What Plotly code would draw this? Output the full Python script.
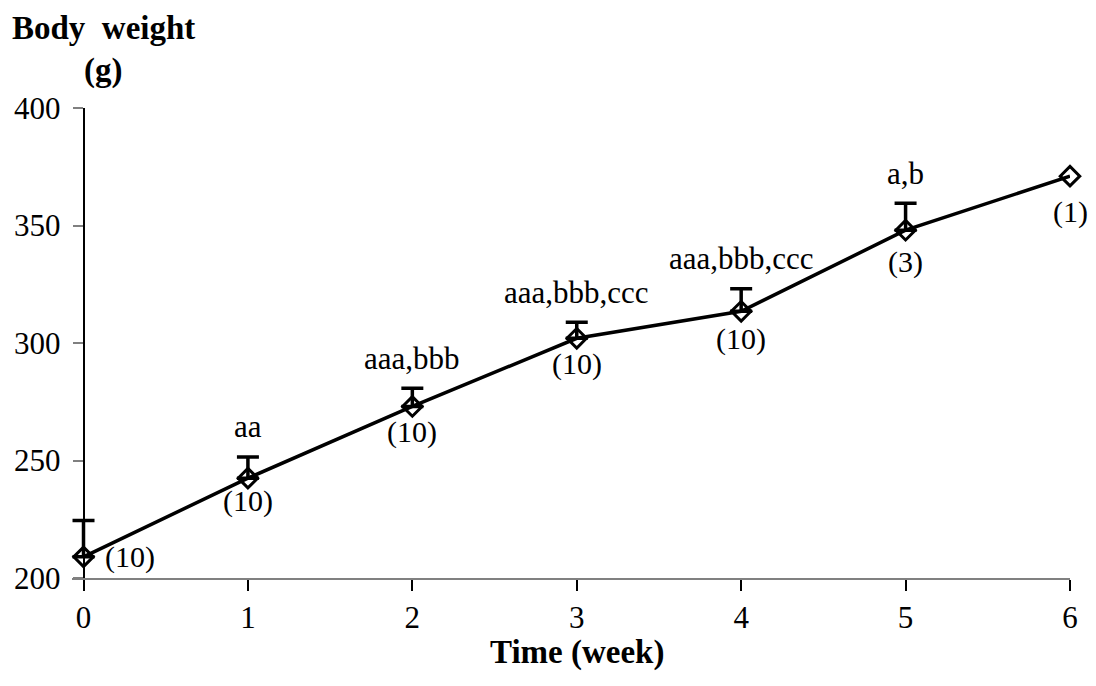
import plotly.graph_objects as go

# Body weight over time (mean with upward SEM bar)
weeks = [0, 1, 2, 3, 4, 5, 6]
mean_weight = [209, 242.5, 273, 302, 313.5, 348, 371]
sem_weight = [15.5, 9, 7.7, 6.8, 9.6, 11.5, None]
n_animals = ["(10)", "(10)", "(10)", "(10)", "(10)", "(3)", "(1)"]
significance = ["", "aa", "aaa,bbb", "aaa,bbb,ccc", "aaa,bbb,ccc", "a,b", ""]
y_ticks = [200, 250, 300, 350, 400]

# label placement tweaks (pixels)
n_label_dx = [46, 0, 0, 0, 0, 0, 0]
n_label_dy = [0, -23, -26, -26, -28, -32, -36]
sig_label_dy = 30

FONT = "Liberation Serif"
X_MIN = -0.07  # small lead-in so the x-axis line starts left of the y axis

fig = go.Figure()

# error bars (only where an SEM exists)
err_x = [w for w, s in zip(weeks, sem_weight) if s is not None]
err_y = [m for m, s in zip(mean_weight, sem_weight) if s is not None]
err_v = [s for s in sem_weight if s is not None]
fig.add_trace(go.Scatter(
    x=err_x, y=err_y, mode="markers",
    marker=dict(size=1, color="rgba(0,0,0,0)"),
    error_y=dict(type="data", symmetric=False, array=err_v,
                 arrayminus=[0] * len(err_v), color="black",
                 thickness=3.5, width=11),
    cliponaxis=False, hoverinfo="skip", showlegend=False,
))

fig.add_trace(go.Scatter(
    x=weeks, y=mean_weight, mode="lines+markers",
    line=dict(color="black", width=3.5),
    marker=dict(symbol="diamond-open", size=15, color="black",
                line=dict(color="black", width=3)),
    cliponaxis=False, showlegend=False,
))

annotations = []
for w, m, s, txt in zip(weeks, mean_weight, sem_weight, significance):
    if txt:
        annotations.append(dict(
            x=w, y=m + (s or 0), xref="x", yref="y", text=txt,
            showarrow=False, yshift=sig_label_dy,
            font=dict(family=FONT, size=31, color="black"),
        ))
for w, m, txt, dx, dy in zip(weeks, mean_weight, n_animals, n_label_dx, n_label_dy):
    annotations.append(dict(
        x=w, y=m, xref="x", yref="y", text=txt, showarrow=False,
        xshift=dx, yshift=dy,
        font=dict(family=FONT, size=30, color="black"),
    ))

# axis titles
annotations.append(dict(
    x=0, y=1, xref="x", yref="paper", text="<b>Body  weight</b>",
    showarrow=False, xanchor="left", yanchor="middle",
    xshift=-74, yshift=80, font=dict(family=FONT, size=33, color="black"),
))
annotations.append(dict(
    x=0, y=1, xref="x", yref="paper", text="<b>(g)</b>",
    showarrow=False, xanchor="left", yanchor="middle",
    xshift=-2, yshift=38, font=dict(family=FONT, size=33, color="black"),
))
annotations.append(dict(
    x=3, y=0, xref="x", yref="paper", text="<b>Time (week)</b>",
    showarrow=False, xanchor="center", yanchor="middle",
    yshift=-74, font=dict(family=FONT, size=33, color="black"),
))

fig.update_layout(
    width=1096, height=686,
    margin=dict(l=72, r=26, t=108, b=108),
    paper_bgcolor="white", plot_bgcolor="white",
    annotations=annotations,
    font=dict(family=FONT, color="black"),
)
fig.update_xaxes(
    range=[X_MIN, 6], tickvals=weeks, ticktext=[str(w) for w in weeks],
    showgrid=False, zeroline=False,
    showline=True, linecolor="#808080", linewidth=2,
    ticks="outside", ticklen=11, tickcolor="black", tickwidth=1.5,
    tickfont=dict(family=FONT, size=31, color="black"),
)
fig.update_yaxes(
    range=[200, 400], tickvals=y_ticks, ticktext=[str(v) for v in y_ticks],
    showgrid=False, zeroline=False,
    anchor="free", position=(0 - X_MIN) / (6 - X_MIN),
    showline=True, linecolor="black", linewidth=1.5,
    ticks="outside", ticklen=10, tickcolor="#808080", tickwidth=1.5,
    ticklabelstandoff=6,
    tickfont=dict(family=FONT, size=31, color="black"),
)

fig.write_html("out.html")
